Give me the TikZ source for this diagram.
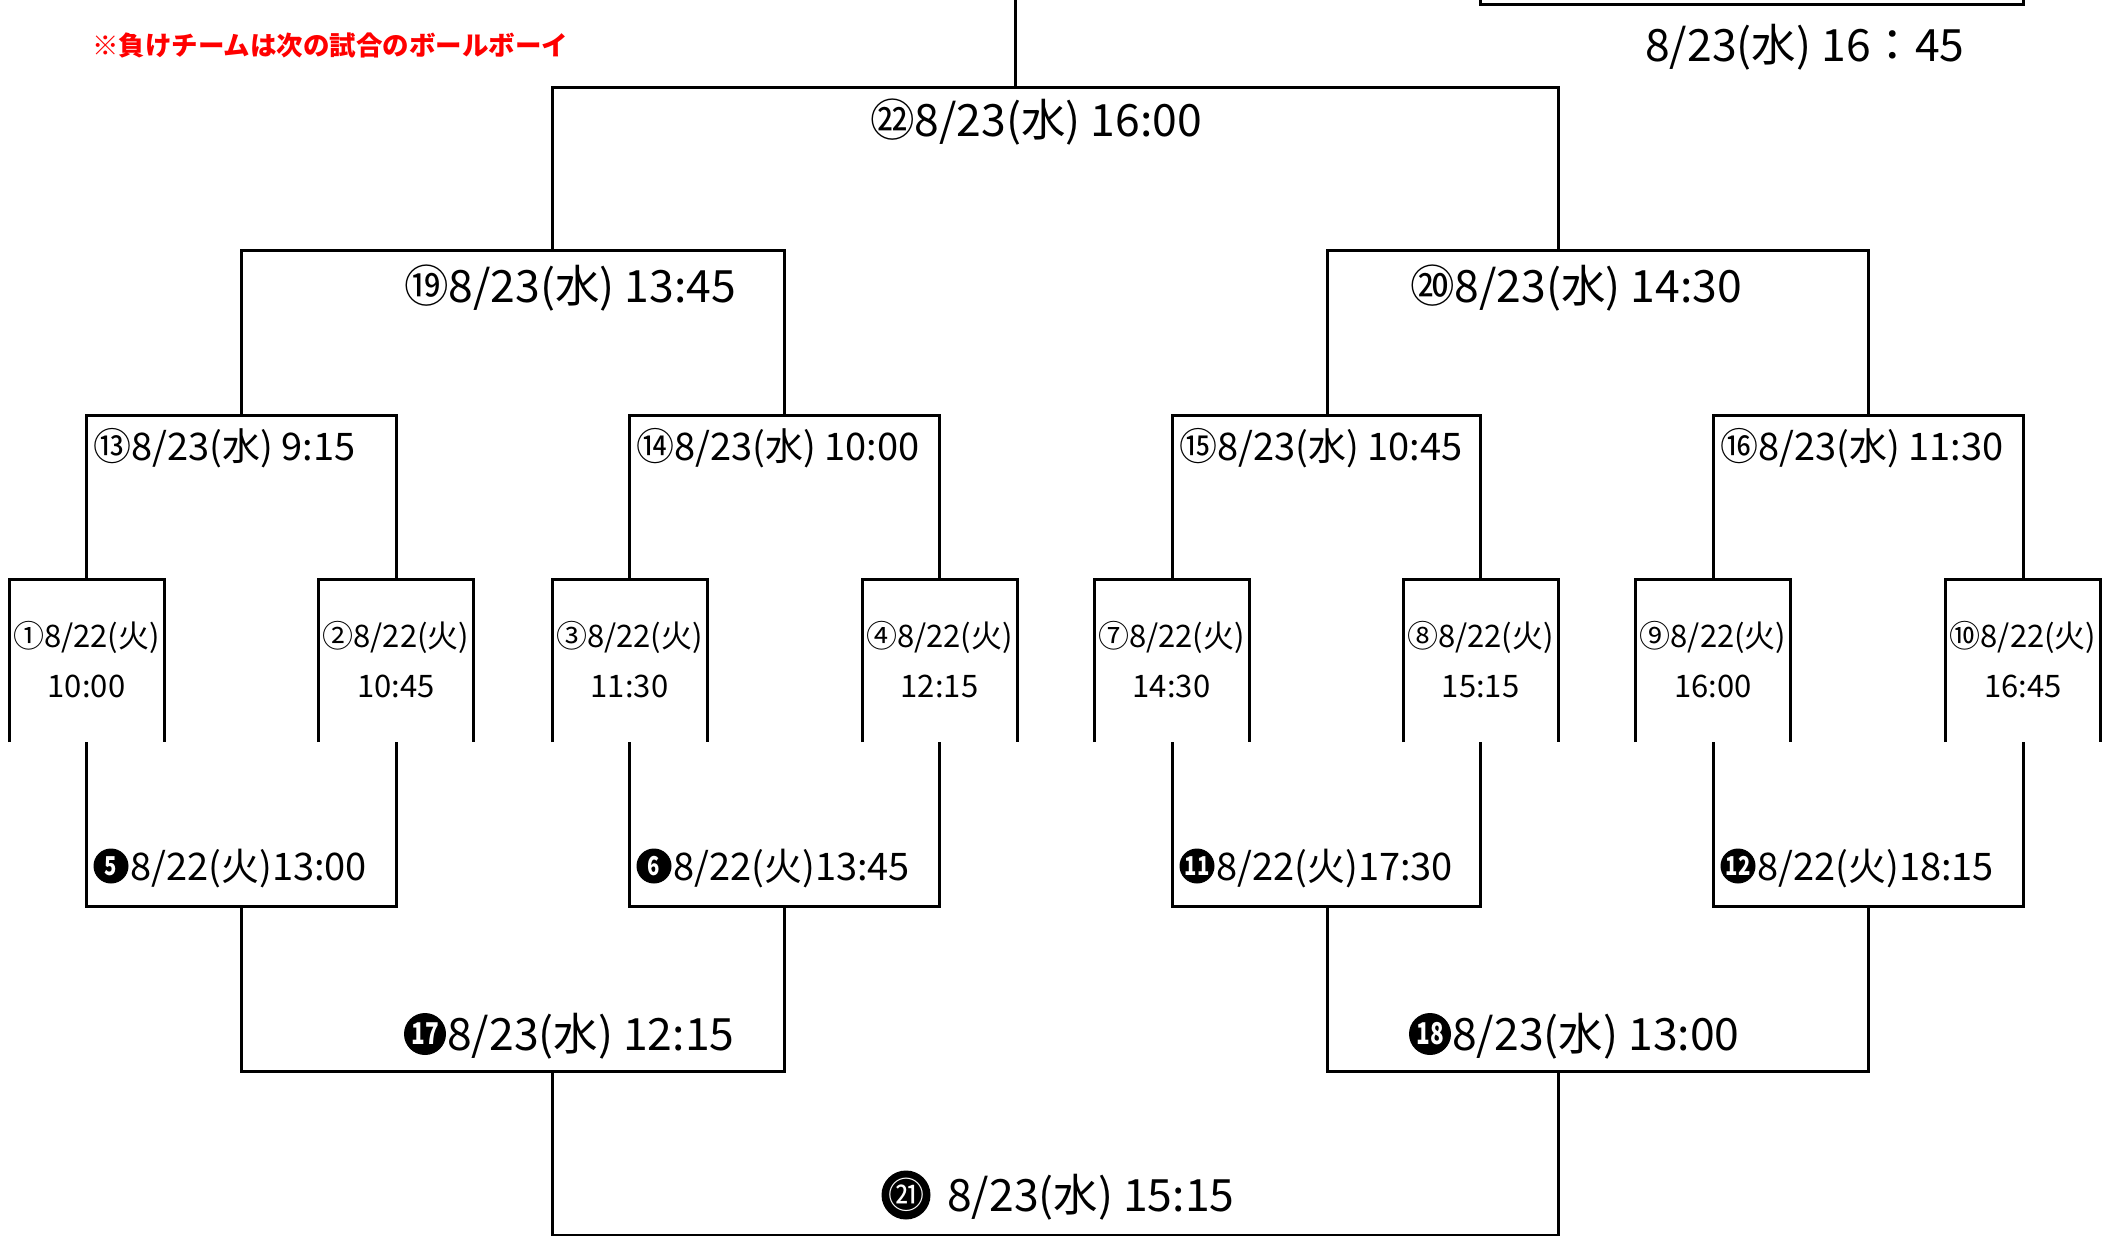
\documentclass[tikz,border=0pt]{standalone}
\usepackage{fontspec}
\usepackage{graphicx}
\setmainfont{Noto Sans CJK JP}
\newcommand\fsBig{\fontsize{44.5}{54}\selectfont}
\newcommand\fsMid{\fontsize{38}{46}\selectfont}
\newcommand\fsSml{\fontsize{31}{38}\selectfont}
\newcommand\fsRed{\fontsize{26.5}{32}\selectfont\bfseries}
\begin{document}
\begin{tikzpicture}[x=1pt,y=-1pt,
  bk/.style={line width=3pt, line join=miter},
  bigt/.style={font=\fsBig, inner sep=0pt, anchor=base west},
  midt/.style={font=\fsMid, inner sep=0pt, anchor=base west},
  smlt/.style={font=\fsSml, inner sep=0pt, anchor=base},
  blk/.style={circle, fill=black, text=white, inner sep=0pt, minimum size=#1}]
\useasboundingbox (0,0) rectangle (2112,1236);

% ---- brackets ----
\draw[bk] (1015.6,0) -- (1015.6,87.5);
\draw[bk] (552,250.5) -- (552,87.5) -- (1558,87.5) -- (1558,250.5);
\draw[bk] (241,415) -- (241,250.5) -- (784,250.5) -- (784,415);
\draw[bk] (1327,415) -- (1327,250.5) -- (1868,250.5) -- (1868,415);
\foreach \a/\b in {86/396, 629/939, 1172/1480, 1713/2023}{
  \draw[bk] (\a,579) -- (\a,415) -- (\b,415) -- (\b,579);
  \draw[bk] (\a,742) -- (\a,906.5) -- (\b,906.5) -- (\b,742);
}
\foreach \c in {86.5, 396, 629.5, 939.5, 1171.5, 1480.5, 1713, 2023}{
  \draw[bk] (\c-77.5,742) -- (\c-77.5,579) -- (\c+77.5,579) -- (\c+77.5,742);
}
\draw[bk] (241,906.5) -- (241,1071) -- (784,1071) -- (784,906.5);
\draw[bk] (1327,906.5) -- (1327,1071) -- (1868,1071) -- (1868,906.5);
\draw[bk] (552,1071) -- (552,1235) -- (1558,1235) -- (1558,1071);
\draw[bk] (1480,0) -- (1480,5) -- (2023,5) -- (2023,0);

% ---- notes ----
\node[inner sep=0pt, anchor=base west, text=red, font=\fsRed] (note) at (92,56) {※負けチームは次の試合のボールボーイ};
\node[bigt] (final) at (1645,62) {8/23(水) 16：45};

% ---- top half ----
\node[bigt] (t22) at (870,137) {㉒8/23(水) 16:00};
\node[bigt] (t19) at (404,302) {⑲8/23(水) 13:45};
\node[bigt] (t20) at (1410,302) {⑳8/23(水) 14:30};
\node[midt] (t13) at (93,460) {⑬8/23(水) 9:15};
\node[midt] (t14) at (636,460) {⑭8/23(水) 10:00};
\node[midt] (t15) at (1179,460) {⑮8/23(水) 10:45};
\node[midt] (t16) at (1720,460) {⑯8/23(水) 11:30};

% ---- first round ----
\foreach \n/\g/\c/\tm in {1/①/86.5/10:00, 2/②/396/10:45, 3/③/629.5/11:30, 4/④/939.5/12:15,
                       7/⑦/1171.5/14:30, 8/⑧/1480.5/15:15, 9/⑨/1713/16:00, 10/⑩/2023/16:45}{
  \node[smlt] (d\n) at (\c,647) {\g 8/22(火)};
  \node[smlt] (h\n) at (\c,697) {\tm};
}

% ---- bottom half ----
\foreach \n/\x/\tm in {5/86/13:00, 6/629/13:45, 11/1172/17:30, 12/1713/18:15}{
  \node[blk=35] (c\n) at (\x+25,866) {\fontsize{26}{26}\selectfont\bfseries\scalebox{0.78}[1]{\n}};
  \node[midt] (t\n) at (\x+44,880) {8/22(火)\tm};
}
\node[blk=42] (c17) at (425,1034) {\fontsize{30}{30}\selectfont\bfseries\scalebox{0.75}[1]{17}};
\node[bigt] (t17) at (447,1050) {8/23(水) 12:15};
\node[blk=42] (c18) at (1430,1034) {\fontsize{30}{30}\selectfont\bfseries\scalebox{0.75}[1]{18}};
\node[bigt] (t18) at (1452,1050) {8/23(水) 13:00};
\node[blk=47] (c21) at (906,1195) {\fontsize{36}{36}\selectfont ㉑};
\node[bigt] (t21) at (947,1211) {8/23(水) 15:15};
\end{tikzpicture}
\end{document}
